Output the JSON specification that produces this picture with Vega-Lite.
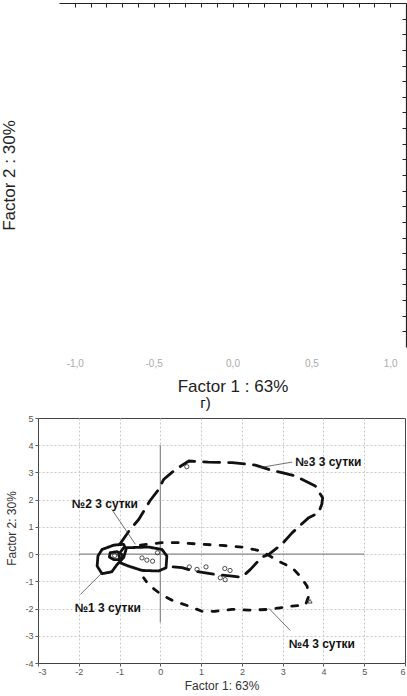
{
  "$schema": "https://vega.github.io/schema/vega-lite/v6.json",
  "padding": {"left": 0, "top": 2, "right": 0, "bottom": 0},
  "columns": 1,
  "align": "none",
  "spacing": 1,
  "config": {"font": "Liberation Sans", "axis": {"labelFont": "Liberation Sans", "titleFont": "Liberation Sans"}},
  "datasets": {
    "zeros": [
      {"x": 0, "y": -2.5, "x2": 0, "y2": 4},
      {"x": -2, "y": 0, "x2": 5, "y2": 0}
    ],
    "contours": [
      {"c": "n1", "s": "solid", "o": 1, "x": -1.43, "y": 0.17},
      {"c": "n1", "s": "solid", "o": 2, "x": -1.14, "y": 0.33},
      {"c": "n1", "s": "solid", "o": 3, "x": -0.9, "y": 0.36},
      {"c": "n1", "s": "solid", "o": 4, "x": -0.84, "y": 0.17},
      {"c": "n1", "s": "solid", "o": 5, "x": -0.9, "y": -0.13},
      {"c": "n1", "s": "solid", "o": 6, "x": -1.06, "y": -0.38},
      {"c": "n1", "s": "solid", "o": 7, "x": -1.19, "y": -0.65},
      {"c": "n1", "s": "solid", "o": 8, "x": -1.43, "y": -0.72},
      {"c": "n1", "s": "solid", "o": 9, "x": -1.55, "y": -0.44},
      {"c": "n1", "s": "solid", "o": 10, "x": -1.53, "y": -0.07},
      {"c": "n1", "s": "solid", "o": 11, "x": -1.43, "y": 0.17},
      {"c": "n1b", "s": "solid", "o": 1, "x": -1.23, "y": 0.05},
      {"c": "n1b", "s": "solid", "o": 2, "x": -1.06, "y": 0.09},
      {"c": "n1b", "s": "solid", "o": 3, "x": -0.92, "y": -0.04},
      {"c": "n1b", "s": "solid", "o": 4, "x": -0.98, "y": -0.2},
      {"c": "n1b", "s": "solid", "o": 5, "x": -1.14, "y": -0.2},
      {"c": "n1b", "s": "solid", "o": 6, "x": -1.25, "y": -0.11},
      {"c": "n1b", "s": "solid", "o": 7, "x": -1.23, "y": 0.05},
      {"c": "n2", "s": "solid", "o": 1, "x": -0.9, "y": 0.23},
      {"c": "n2", "s": "solid", "o": 2, "x": -0.29, "y": 0.26},
      {"c": "n2", "s": "solid", "o": 3, "x": 0.04, "y": 0.17},
      {"c": "n2", "s": "solid", "o": 4, "x": 0.16, "y": -0.07},
      {"c": "n2", "s": "solid", "o": 5, "x": 0.14, "y": -0.5},
      {"c": "n2", "s": "solid", "o": 6, "x": -0.04, "y": -0.62},
      {"c": "n2", "s": "solid", "o": 7, "x": -0.45, "y": -0.6},
      {"c": "n2", "s": "solid", "o": 8, "x": -0.78, "y": -0.44},
      {"c": "n2", "s": "solid", "o": 9, "x": -0.98, "y": -0.32},
      {"c": "n2", "s": "solid", "o": 10, "x": -1.02, "y": -0.01},
      {"c": "n2", "s": "solid", "o": 11, "x": -0.9, "y": 0.23},
      {"c": "n3", "s": "long", "o": 1, "x": -1.0, "y": 0.35},
      {"c": "n3", "s": "long", "o": 2, "x": -0.74, "y": 0.91},
      {"c": "n3", "s": "long", "o": 3, "x": -0.53, "y": 1.27},
      {"c": "n3", "s": "long", "o": 4, "x": -0.25, "y": 1.97},
      {"c": "n3", "s": "long", "o": 5, "x": -0.04, "y": 2.38},
      {"c": "n3", "s": "long", "o": 6, "x": 0.08, "y": 2.74},
      {"c": "n3", "s": "long", "o": 7, "x": 0.37, "y": 3.11},
      {"c": "n3", "s": "long", "o": 8, "x": 0.7, "y": 3.42},
      {"c": "n3", "s": "long", "o": 9, "x": 1.18, "y": 3.38},
      {"c": "n3", "s": "long", "o": 10, "x": 1.76, "y": 3.36},
      {"c": "n3", "s": "long", "o": 11, "x": 2.33, "y": 3.27},
      {"c": "n3", "s": "long", "o": 12, "x": 2.66, "y": 3.11},
      {"c": "n3", "s": "long", "o": 13, "x": 2.98, "y": 2.99},
      {"c": "n3", "s": "long", "o": 14, "x": 3.31, "y": 2.87},
      {"c": "n3", "s": "long", "o": 15, "x": 3.8, "y": 2.5},
      {"c": "n3", "s": "long", "o": 16, "x": 3.98, "y": 2.07},
      {"c": "n3", "s": "long", "o": 17, "x": 3.96, "y": 1.83},
      {"c": "n3", "s": "long", "o": 18, "x": 3.88, "y": 1.52},
      {"c": "n3", "s": "long", "o": 19, "x": 3.64, "y": 1.34},
      {"c": "n3", "s": "long", "o": 20, "x": 3.23, "y": 0.78},
      {"c": "n3", "s": "long", "o": 21, "x": 2.98, "y": 0.36},
      {"c": "n3", "s": "long", "o": 22, "x": 2.66, "y": -0.01},
      {"c": "n3", "s": "long", "o": 23, "x": 2.49, "y": -0.11},
      {"c": "n3", "s": "long", "o": 24, "x": 2.21, "y": -0.56},
      {"c": "n3", "s": "long", "o": 25, "x": 2.0, "y": -0.85},
      {"c": "n3", "s": "long", "o": 26, "x": 1.76, "y": -0.81},
      {"c": "n3", "s": "long", "o": 27, "x": 1.35, "y": -0.75},
      {"c": "n3", "s": "long", "o": 28, "x": 0.86, "y": -0.63},
      {"c": "n3", "s": "long", "o": 29, "x": 0.53, "y": -0.5},
      {"c": "n3", "s": "long", "o": 30, "x": 0.12, "y": -0.44},
      {"c": "n4", "s": "short", "o": 1, "x": -0.49, "y": 0.33},
      {"c": "n4", "s": "short", "o": 2, "x": 0.04, "y": 0.42},
      {"c": "n4", "s": "short", "o": 3, "x": 0.45, "y": 0.42},
      {"c": "n4", "s": "short", "o": 4, "x": 1.02, "y": 0.36},
      {"c": "n4", "s": "short", "o": 5, "x": 1.51, "y": 0.32},
      {"c": "n4", "s": "short", "o": 6, "x": 2.0, "y": 0.26},
      {"c": "n4", "s": "short", "o": 7, "x": 2.49, "y": 0.11},
      {"c": "n4", "s": "short", "o": 8, "x": 2.9, "y": -0.26},
      {"c": "n4", "s": "short", "o": 9, "x": 3.23, "y": -0.5},
      {"c": "n4", "s": "short", "o": 10, "x": 3.43, "y": -0.81},
      {"c": "n4", "s": "short", "o": 11, "x": 3.6, "y": -1.18},
      {"c": "n4", "s": "short", "o": 12, "x": 3.64, "y": -1.54},
      {"c": "n4", "s": "short", "o": 13, "x": 3.56, "y": -1.87},
      {"c": "n4", "s": "short", "o": 14, "x": 3.23, "y": -1.91},
      {"c": "n4", "s": "short", "o": 15, "x": 2.66, "y": -2.03},
      {"c": "n4", "s": "short", "o": 16, "x": 2.17, "y": -2.06},
      {"c": "n4", "s": "short", "o": 17, "x": 1.76, "y": -2.03},
      {"c": "n4", "s": "short", "o": 18, "x": 1.35, "y": -2.1},
      {"c": "n4", "s": "short", "o": 19, "x": 1.02, "y": -2.1},
      {"c": "n4", "s": "short", "o": 20, "x": 0.7, "y": -1.91},
      {"c": "n4", "s": "short", "o": 21, "x": 0.29, "y": -1.7},
      {"c": "n4", "s": "short", "o": 22, "x": 0.0, "y": -1.46},
      {"c": "n4", "s": "short", "o": 23, "x": -0.29, "y": -1.12},
      {"c": "n4", "s": "short", "o": 24, "x": -0.41, "y": -0.87}
    ],
    "arrows": [
      {"x": 3.23, "y": 3.38, "x2": 2.41, "y2": 3.17},
      {"x": -1.19, "y": 1.64, "x2": -0.61, "y2": 0.36},
      {"x": -1.96, "y": -1.48, "x2": -1.43, "y2": -0.69},
      {"x": 3.19, "y": -2.81, "x2": 2.66, "y2": -1.99}
    ],
    "points": [
      {"k": "circle", "x": 0.65, "y": 3.21},
      {"k": "circle", "x": -1.12, "y": -0.05},
      {"k": "circle", "x": -0.98, "y": -0.06},
      {"k": "circle", "x": -0.45, "y": -0.14},
      {"k": "circle", "x": -0.33, "y": -0.22},
      {"k": "circle", "x": -0.19, "y": -0.26},
      {"k": "circle", "x": -0.07, "y": 0.05},
      {"k": "circle", "x": 0.71, "y": -0.47},
      {"k": "circle", "x": 0.9, "y": -0.56},
      {"k": "circle", "x": 1.12, "y": -0.47},
      {"k": "circle", "x": 1.58, "y": -0.53},
      {"k": "circle", "x": 1.71, "y": -0.6},
      {"k": "circle", "x": 1.47, "y": -0.87},
      {"k": "circle", "x": 1.59, "y": -0.94},
      {"k": "triangle-up", "x": 3.67, "y": -1.73}
    ],
    "labels": [
      {"t": "№3 3 сутки", "x": 3.31, "y": 3.38},
      {"t": "№2 3 сутки", "x": -2.17, "y": 1.83},
      {"t": "№1 3 сутки", "x": -2.1, "y": -1.97},
      {"t": "№4 3 сутки", "x": 3.15, "y": -3.3}
    ]
  },
  "concat": [
    {
      "width": 368,
      "height": 344,
      "view": {"stroke": null},
      "data": {"values": []},
      "resolve": {"axis": {"x": "independent", "y": "independent"}},
      "layer": [
        {
          "mark": {"type": "point"},
          "encoding": {
            "x": {"field": "f1", "type": "quantitative",
              "scale": {"domain": [-1.1, 1.1], "range": [21, 368], "nice": false, "zero": false},
              "axis": {"orient": "bottom", "values": [-1, -0.5, 0, 0.5, 1],
                "labelExpr": "replace(replace(format(datum.value, '.1f'), '.', ','), '−', '-')",
                "domain": false, "ticks": false, "grid": false,
                "labelFontSize": 10, "labelColor": "#aaaaaa", "labelPadding": 11,
                "title": "Factor 1 : 63%", "titleFontSize": 17, "titleFontWeight": "normal",
                "titleColor": "#222222", "titlePadding": 10}},
            "y": {"field": "f2", "type": "quantitative",
              "scale": {"domain": [-1.1, 1.1], "nice": false, "zero": false},
              "axis": {"orient": "left", "domain": false, "ticks": false, "labels": false, "grid": false,
                "title": "Factor 2 : 30%", "titleFontSize": 17, "titleFontWeight": "normal",
                "titleColor": "#222222", "titlePadding": 20}}
          }
        },
        {
          "mark": {"type": "point"},
          "encoding": {
            "x": {"field": "f1", "type": "quantitative",
              "axis": {"orient": "top", "values": [-1, -0.9, -0.8, -0.7, -0.6, -0.5, -0.4, -0.3, -0.2, -0.1, 0, 0.1, 0.2, 0.3, 0.4, 0.5, 0.6, 0.7, 0.8, 0.9, 1],
                "labels": false, "grid": false, "title": null,
                "domainColor": "#222222", "domainWidth": 1.2, "tickColor": "#222222", "tickSize": -4, "tickWidth": 1}},
            "y": {"field": "f2", "type": "quantitative",
              "axis": {"orient": "right", "values": [-1, -0.9, -0.8, -0.7, -0.6, -0.5, -0.4, -0.3, -0.2, -0.1, 0, 0.1, 0.2, 0.3, 0.4, 0.5, 0.6, 0.7, 0.8, 0.9, 1],
                "labels": false, "grid": false, "title": null,
                "domainColor": "#222222", "domainWidth": 1.2, "tickColor": "#222222", "tickSize": -4, "tickWidth": 1}}
          }
        }
      ]
    },
    {
      "width": 367,
      "height": 245,
      "view": {"stroke": "#444444", "strokeWidth": 1},
      "title": {"text": "г)", "fontSize": 15, "fontWeight": "normal", "font": "Liberation Sans", "color": "#111111", "anchor": "middle", "dx": -16, "offset": 3},
      "encoding": {
        "x": {"field": "x", "type": "quantitative",
          "scale": {"domain": [-3, 6], "nice": false, "zero": false},
          "axis": {"values": [-3, -2, -1, 0, 1, 2, 3, 4, 5, 6], "labelExpr": "'' + datum.value",
            "domain": false, "tickSize": 3, "tickColor": "#555555", "labelFontSize": 9, "labelColor": "#555555", "labelPadding": 1,
            "grid": true, "gridDash": [2, 2], "gridColor": "#c8c8c8",
            "gridOpacity": {"condition": {"test": "datum.value == -3 || datum.value == 6", "value": 0}, "value": 1},
            "title": "Factor 1: 63%", "titleFontSize": 12, "titleFontWeight": "normal", "titleColor": "#333333", "titlePadding": 4}},
        "y": {"field": "y", "type": "quantitative",
          "scale": {"domain": [-4, 5], "nice": false, "zero": false},
          "axis": {"values": [-4, -3, -2, -1, 0, 1, 2, 3, 4, 5], "labelExpr": "'' + datum.value",
            "domain": false, "tickSize": 3, "tickColor": "#555555", "labelFontSize": 9, "labelColor": "#555555", "labelPadding": 2,
            "minExtent": 18, "maxExtent": 18,
            "grid": true, "gridDash": [2, 2], "gridColor": "#c8c8c8",
            "gridOpacity": {"condition": {"test": "datum.value == -4 || datum.value == 5", "value": 0}, "value": 1},
            "title": "Factor 2: 30%", "titleFontSize": 12, "titleFontWeight": "normal", "titleColor": "#333333", "titlePadding": 2, "titleY": 110}}
      },
      "layer": [
        {
          "data": {"name": "zeros"},
          "mark": {"type": "rule", "color": "#888888", "strokeWidth": 1.2},
          "encoding": {"x2": {"field": "x2"}, "y2": {"field": "y2"}}
        },
        {
          "data": {"name": "contours"},
          "mark": {"type": "line", "color": "#111111", "strokeWidth": 2.8, "strokeCap": "round", "strokeJoin": "round"},
          "encoding": {
            "detail": {"field": "c"},
            "order": {"field": "o", "type": "quantitative"},
            "strokeDash": {"field": "s", "type": "nominal", "legend": null,
              "scale": {"domain": ["solid", "long", "short"], "range": [[1, 0], [16, 9], [6, 10]]}}
          }
        },
        {
          "data": {"name": "arrows"},
          "mark": {"type": "rule", "color": "#333333", "strokeWidth": 0.7},
          "encoding": {"x2": {"field": "x2"}, "y2": {"field": "y2"}}
        },
        {
          "data": {"name": "points"},
          "mark": {"type": "point", "filled": false, "color": "#222222", "strokeWidth": 0.8, "size": 18, "opacity": 1},
          "encoding": {
            "shape": {"field": "k", "type": "nominal", "legend": null,
              "scale": {"domain": ["circle", "triangle-up"], "range": ["circle", "triangle-up"]}}
          }
        },
        {
          "data": {"name": "labels"},
          "mark": {"type": "text", "align": "left", "baseline": "middle", "fontSize": 12, "fontWeight": "bold", "font": "Liberation Sans", "color": "#111111"},
          "encoding": {"text": {"field": "t"}}
        }
      ]
    }
  ]
}
